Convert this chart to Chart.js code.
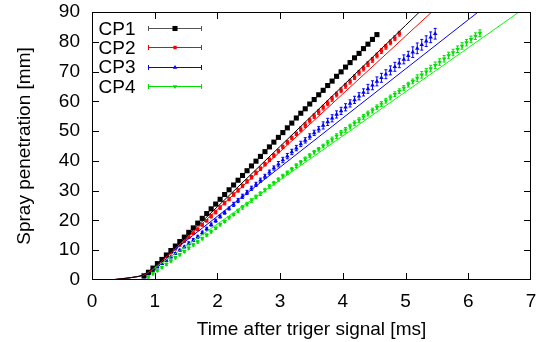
<!DOCTYPE html>
<html>
<head>
<meta charset="utf-8">
<script src="https://cdn.jsdelivr.net/npm/chart.js@4.4.0/dist/chart.umd.min.js"></script>
<style>
  html, body { margin: 0; padding: 0; background: #fff; }
  #chart { display: block; }
</style>
</head>
<body>
<canvas id="chart" width="541" height="342"></canvas>
<script>
// camera frame times [ms] (one frame every 1/14 ms)
var frameTimes = [
  0.829, 0.900, 0.972, 1.043, 1.115, 1.186, 1.258, 1.329, 1.400, 1.472,
  1.543, 1.615, 1.686, 1.758, 1.829, 1.900, 1.972, 2.043, 2.115, 2.186,
  2.258, 2.329, 2.400, 2.472, 2.543, 2.615, 2.686, 2.758, 2.829, 2.900,
  2.972, 3.043, 3.115, 3.186, 3.258, 3.329, 3.400, 3.472, 3.543, 3.615,
  3.686, 3.758, 3.829, 3.900, 3.972, 4.043, 4.115, 4.186, 4.258, 4.329,
  4.400, 4.472, 4.543, 4.615, 4.686, 4.758, 4.829, 4.900, 4.972, 5.043,
  5.115, 5.186, 5.258, 5.329, 5.400, 5.472, 5.543, 5.615, 5.686, 5.758,
  5.829, 5.900, 5.972, 6.043, 6.115, 6.186
];

// measured penetration [mm], one value per frame
var cp1 = [
  1.4, 2.6, 4.0, 5.5, 6.9, 8.4, 9.9, 11.4, 12.9, 14.4,
  16.0, 17.5, 19.1, 20.7, 22.3, 23.9, 25.5, 27.1, 28.7, 30.3,
  31.9, 33.5, 35.1, 36.7, 38.3, 39.9, 41.5, 43.1, 44.7, 46.3,
  47.9, 49.5, 51.1, 52.7, 54.4, 56.0, 57.5, 59.1, 60.6, 62.2,
  63.7, 65.3, 66.8, 68.4, 69.9, 71.5, 73.0, 74.6, 76.1, 77.7,
  79.2, 80.8, 82.4
];
var cp2 = [
  1.4, 2.7, 4.0, 5.3, 6.6, 7.9, 9.2, 10.5, 11.8, 13.1,
  14.4, 15.7, 17.0, 18.5, 19.9, 21.4, 22.8, 24.3, 25.8, 27.2,
  28.7, 30.1, 31.6, 33.1, 34.5, 36.0, 37.4, 38.9, 40.4, 41.8,
  43.3, 44.7, 46.2, 47.7, 49.1, 50.6, 52.0, 53.5, 55.0, 56.4,
  57.9, 59.3, 60.8, 62.3, 63.7, 65.2, 66.6, 68.1, 69.6, 71.0,
  72.5, 73.9, 75.4, 76.9, 78.3, 79.8, 81.2, 82.7
];
var cp3 = [
  1.0, 2.1, 3.2, 4.4, 5.5, 6.6, 7.7, 8.9, 10.0, 11.1,
  12.3, 13.4, 14.5, 15.9, 17.2, 18.6, 19.9, 21.3, 22.6, 24.0,
  25.4, 26.7, 28.1, 29.4, 30.8, 32.1, 33.5, 34.8, 36.2, 37.6,
  38.9, 40.3, 41.6, 43.0, 44.3, 45.7, 46.9, 48.2, 49.4, 50.6,
  51.9, 53.1, 54.3, 55.6, 56.8, 58.0, 59.3, 60.5, 61.7, 63.0,
  64.2, 65.4, 66.7, 67.9, 69.1, 70.4, 71.6, 72.8, 74.1, 75.3,
  76.5, 77.8, 79.0, 80.2, 81.5, 82.7
];
var cp4 = [
  null,
  1.0, 2.1, 3.2, 4.2, 5.3, 6.4, 7.5, 8.5, 9.6, 10.7,
  11.8, 12.8, 13.9, 15.1, 16.2, 17.4, 18.6, 19.7, 20.9, 22.0,
  23.2, 24.4, 25.5, 26.7, 27.9, 29.0, 30.2, 31.4, 32.5, 33.7,
  34.9, 36.0, 37.2, 38.4, 39.5, 40.7, 41.8, 42.9, 43.9, 45.0,
  46.1, 47.2, 48.3, 49.4, 50.4, 51.5, 52.6, 53.7, 54.8, 55.9,
  56.9, 58.0, 59.1, 60.2, 61.3, 62.4, 63.4, 64.5, 65.6, 66.7,
  67.8, 68.9, 69.9, 71.0, 72.1, 73.2, 74.3, 75.4, 76.4, 77.5,
  78.6, 79.7, 80.8, 81.9, 82.9
];

// error (+/- mm) per frame
var cp1Err = [
  0.3, 0.3, 0.3, 0.3, 0.3, 0.3, 0.3, 0.3, 0.3, 0.3,
  0.3, 0.3, 0.3, 0.3, 0.3, 0.3, 0.3, 0.3, 0.3, 0.3,
  0.4, 0.4, 0.4, 0.4, 0.4, 0.4, 0.4, 0.4, 0.4, 0.4,
  0.4, 0.4, 0.4, 0.4, 0.4, 0.4, 0.4, 0.4, 0.4, 0.4,
  0.5, 0.5, 0.5, 0.5, 0.5, 0.5, 0.5, 0.5, 0.5, 0.5,
  0.5, 0.5, 0.5
];
var cp2Err = [
  0.4, 0.4, 0.4, 0.4, 0.4, 0.4, 0.4, 0.4, 0.4, 0.4,
  0.4, 0.4, 0.4, 0.4, 0.4, 0.6, 0.6, 0.6, 0.6, 0.6,
  0.6, 0.6, 0.6, 0.6, 0.6, 0.6, 0.6, 0.6, 0.6, 0.6,
  0.6, 0.6, 0.6, 0.6, 0.6, 0.8, 0.8, 0.8, 0.8, 0.8,
  0.8, 0.8, 0.8, 0.8, 0.8, 0.8, 0.8, 0.8, 0.8, 0.8,
  0.8, 0.8, 0.8, 0.8, 0.8, 0.8, 0.8, 0.8
];
var cp3Err = [
  0.3, 0.3, 0.3, 0.3, 0.3, 0.3, 0.3, 0.3, 0.3, 0.3,
  0.5, 0.5, 0.5, 0.5, 0.5, 0.5, 0.5, 0.5, 0.5, 0.5,
  0.7, 0.7, 0.7, 0.7, 0.7, 0.7, 0.7, 0.7, 0.7, 0.7,
  0.9, 0.9, 0.9, 0.9, 0.9, 0.9, 0.9, 0.9, 0.9, 0.9,
  1.2, 1.2, 1.2, 1.2, 1.2, 1.2, 1.2, 1.2, 1.2, 1.2,
  1.5, 1.5, 1.5, 1.5, 1.5, 1.5, 1.5, 1.5, 1.5, 1.5,
  1.8, 1.8, 1.8, 1.8, 1.8, 1.8
];
var cp4Err = [
  null,
  0.4, 0.4, 0.4, 0.4, 0.4, 0.4, 0.4, 0.4, 0.4, 0.4,
  0.4, 0.4, 0.4, 0.4, 0.4, 0.4, 0.4, 0.4, 0.4, 0.4,
  0.6, 0.6, 0.6, 0.6, 0.6, 0.6, 0.6, 0.6, 0.6, 0.6,
  0.6, 0.6, 0.6, 0.6, 0.6, 0.6, 0.6, 0.6, 0.6, 0.6,
  0.8, 0.8, 0.8, 0.8, 0.8, 0.8, 0.8, 0.8, 0.8, 0.8,
  0.8, 0.8, 0.8, 0.8, 0.8, 0.8, 0.8, 0.8, 0.8, 0.8,
  1.1, 1.1, 1.1, 1.1, 1.1, 1.1, 1.1, 1.1, 1.1, 1.1,
  1.1, 1.1, 1.1, 1.1, 1.1
];

// model curves (solid lines)
var fitTimes = [0, 0.25, 0.4, 0.55, 0.7, 0.8, 0.9, 1.0, 1.1, 1.2, 1.4, 1.6, 2.0, 3.0, 4.0, 5.0, 6.0, 7.0];
var fitCP1 = [0, 0, 0.25, 0.6, 1.05, 1.6, 2.9, 4.6, 6.4, 8.4, 12.4, 16.5, 24.6, 44.9, 65.2, 85.5, 105.8, 126.1];
var fitCP2 = [0, 0, 0.25, 0.6, 1.05, 1.5, 2.7, 4.3, 6.2, 8.1, 12.0, 15.9, 23.7, 43.1, 62.5, 81.9, 101.3, 120.7];
var fitCP3 = [0, 0, 0.25, 0.6, 1.05, 1.5, 2.6, 4.3, 6.3, 8.1, 11.5, 14.8, 21.4, 37.9, 54.4, 70.9, 87.4, 103.9];
var fitCP4 = [0, 0, 0.25, 0.6, 1.05, 1.5, 2.6, 4.0, 5.5, 7.0, 9.9, 12.9, 18.8, 33.6, 48.4, 63.2, 78.0, 92.8];

var xTicks = [0, 1, 2, 3, 4, 5, 6, 7];
var yTicks = [0, 10, 20, 30, 40, 50, 60, 70, 80, 90];

var FONT = '"Liberation Sans", Arial, Helvetica, sans-serif';
var FONT_SIZE = 19;

var series = [
  { label: 'CP1', values: cp1, errors: cp1Err, fit: fitCP1, color: '#000000', lineColor: '#000000', style: 'rect', radius: 3.6, rotation: 0 },
  { label: 'CP2', values: cp2, errors: cp2Err, fit: fitCP2, color: '#ff0000', lineColor: '#ff0000', style: 'rect', radius: 2.4, rotation: 0 },
  { label: 'CP3', values: cp3, errors: cp3Err, fit: fitCP3, color: '#0000ff', lineColor: '#0000ff', style: 'triangle', radius: 2.6, rotation: 0 },
  { label: 'CP4', values: cp4, errors: cp4Err, fit: fitCP4, color: '#00e000', lineColor: '#00ff00', style: 'triangle', radius: 2.6, rotation: 180 }
];

function pointsOf(times, values) {
  var out = [];
  for (var i = 0; i < times.length && i < values.length; i++) {
    if (values[i] == null) continue;
    out.push({ x: times[i], y: values[i] });
  }
  return out;
}

var datasets = [];
series.forEach(function (s) {
  datasets.push({
    label: s.label,
    data: pointsOf(frameTimes, s.values),
    showLine: false,
    pointStyle: s.style,
    pointRotation: s.rotation,
    pointRadius: s.radius,
    pointBorderWidth: 0,
    pointBackgroundColor: s.color,
    pointBorderColor: s.color,
    order: 1
  });
  datasets.push({
    label: s.label + ' fit',
    data: pointsOf(fitTimes, s.fit),
    showLine: true,
    borderColor: s.lineColor,
    borderWidth: 1,
    pointRadius: 0,
    cubicInterpolationMode: 'monotone',
    order: 0
  });
});

function drawMarker(ctx, s, x, y) {
  if (Chart.helpers && Chart.helpers.drawPoint) {
    ctx.save();
    ctx.fillStyle = s.color;
    ctx.strokeStyle = s.color;
    Chart.helpers.drawPoint(ctx, { pointStyle: s.style, radius: s.radius, rotation: s.rotation, borderWidth: 0 }, x, y);
    ctx.restore();
  }
}

function resetCtx(ctx) {
  ctx.setLineDash([]);
  ctx.globalAlpha = 1;
  ctx.globalCompositeOperation = 'source-over';
  ctx.shadowColor = 'rgba(0,0,0,0)';
}

// gnuplot-like frame, inward mirrored ticks, error bars and key
var gnuplotLook = {
  id: 'gnuplotLook',
  beforeDatasetsDraw: function (chart) {
    var ctx = chart.ctx, a = chart.chartArea;
    var xs = chart.scales.x, ys = chart.scales.y;
    ctx.save();
    resetCtx(ctx);
    ctx.beginPath();
    ctx.rect(a.left, a.top, a.right - a.left, a.bottom - a.top);
    ctx.clip();
    ctx.lineWidth = 1;
    series.forEach(function (s) {
      ctx.strokeStyle = s.color;
      ctx.beginPath();
      for (var i = 0; i < frameTimes.length; i++) {
        var v = s.values[i], e = s.errors[i];
        if (v == null || e == null) continue;
        var x = xs.getPixelForValue(frameTimes[i]);
        var y1 = ys.getPixelForValue(v - e), y2 = ys.getPixelForValue(v + e);
        ctx.moveTo(x, y1); ctx.lineTo(x, y2);
        ctx.moveTo(x - 1.5, y1); ctx.lineTo(x + 1.5, y1);
        ctx.moveTo(x - 1.5, y2); ctx.lineTo(x + 1.5, y2);
      }
      ctx.stroke();
    });
    ctx.restore();
  },
  afterDraw: function (chart) {
    var ctx = chart.ctx, a = chart.chartArea;
    var xs = chart.scales.x, ys = chart.scales.y;
    var L = Math.round(a.left), R = Math.round(a.right) - 1;
    var T = Math.round(a.top), B = Math.round(a.bottom) - 1;
    ctx.save();
    resetCtx(ctx);
    ctx.fillStyle = '#000000';
    // border
    ctx.fillRect(L, T, R - L + 1, 1);
    ctx.fillRect(L, B, R - L + 1, 1);
    ctx.fillRect(L, T, 1, B - T + 1);
    ctx.fillRect(R, T, 1, B - T + 1);
    // inward ticks on all four sides
    xTicks.forEach(function (t) {
      var x = Math.round(xs.getPixelForValue(t));
      if (x > R) x = R;
      ctx.fillRect(x, B - 6, 1, 6);
      ctx.fillRect(x, T + 1, 1, 6);
    });
    yTicks.forEach(function (v) {
      var y = Math.round(ys.getPixelForValue(v));
      if (y > B) y = B;
      ctx.fillRect(L + 1, y, 6, 1);
      ctx.fillRect(R - 6, y, 6, 1);
    });

    // key, top left
    ctx.font = FONT_SIZE + 'px ' + FONT;
    ctx.textAlign = 'left';
    ctx.textBaseline = 'alphabetic';
    series.forEach(function (s, i) {
      var rowY = 28 + i * 19.3;
      ctx.fillStyle = '#000000';
      ctx.fillText(s.label, 98.5, rowY + 6.6);
      var yy = Math.round(rowY);
      ctx.fillStyle = s.color === '#000000' ? '#555555' : s.color;
      ctx.fillRect(148, yy, 54, 1);
      ctx.fillRect(148, yy - 2, 1, 5);
      ctx.fillRect(201, yy - 2, 1, 5);
      drawMarker(ctx, s, 175, yy + 0.5);
    });
    ctx.restore();
  }
};

new Chart(document.getElementById('chart'), {
  type: 'scatter',
  data: { datasets: datasets },
  plugins: [gnuplotLook],
  options: {
    responsive: false,
    animation: false,
    devicePixelRatio: 1,
    layout: { padding: { left: 0, right: 10, top: 12, bottom: 0 } },
    plugins: { legend: { display: false }, tooltip: { enabled: false } },
    scales: {
      x: {
        type: 'linear',
        min: 0,
        max: 7,
        afterBuildTicks: function (axis) { axis.ticks = xTicks.map(function (v) { return { value: v }; }); },
        afterFit: function (scale) { scale.height = 62; scale.paddingLeft = 0; scale.paddingRight = 0; },
        grid: { display: false, drawTicks: false },
        border: { display: false },
        ticks: { color: '#000', padding: 10, maxRotation: 0, autoSkip: false, font: { family: FONT, size: FONT_SIZE } },
        title: {
          display: true,
          text: 'Time after triger signal [ms]',
          color: '#000',
          font: { family: FONT, size: FONT_SIZE },
          padding: { top: 0, bottom: 1 }
        }
      },
      y: {
        type: 'linear',
        min: 0,
        max: 90,
        afterBuildTicks: function (axis) { axis.ticks = yTicks.map(function (v) { return { value: v }; }); },
        afterFit: function (scale) { scale.width = 92; scale.paddingTop = 0; scale.paddingBottom = 0; },
        grid: { display: false, drawTicks: false },
        border: { display: false },
        ticks: { color: '#000', padding: 12, autoSkip: false, font: { family: FONT, size: FONT_SIZE } },
        title: {
          display: true,
          text: 'Spray penetration [mm]',
          color: '#000',
          font: { family: FONT, size: FONT_SIZE },
          padding: { top: 13.6, bottom: 0 }
        }
      }
    }
  }
});
</script>
</body>
</html>
